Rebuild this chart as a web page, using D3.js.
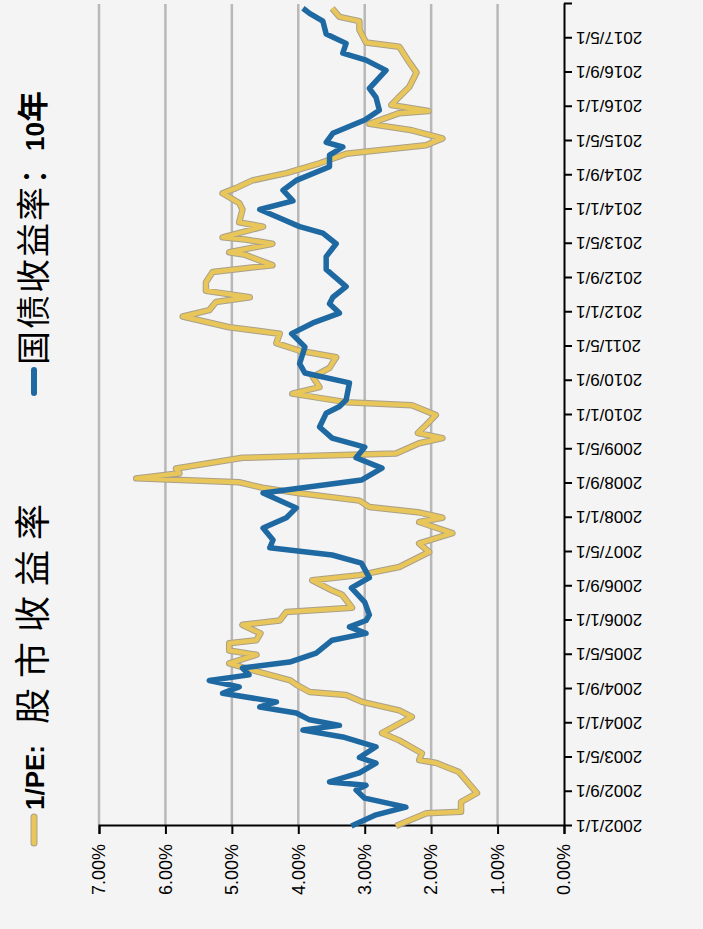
<!DOCTYPE html>
<html><head><meta charset="utf-8">
<script src="https://cdn.jsdelivr.net/npm/d3@7"></script>
<style>body{margin:0;background:#f4f4f4}</style></head>
<body><svg id="c" width="703" height="929"></svg>
<script>
// months since 2002/1
const peMonths=[0,3,3.3,5.6,7.7,12.6,14.7,15.4,17,20,21.7,25.5,27,29,30.6,31.3,33,34,36.4,38,40,41,42.7,43.4,45,46.5,47,48,50,51,54,55,57.4,58.6,60.5,64,66,68.4,71,72,73.3,74.5,76,77.7,79,80.3,81.2,82.4,83.5,86,87,89.4,90.6,91.8,93.6,96,98.3,99,101,102.5,104.9,107,109.5,111,112.8,115,116.5,119,120.5,122.4,123.5,125,127,129.4,131,133.4,134,136,137,137.5,140,141,144,145.5,147.8,149,150.8,152.5,154.8,157,159,160.6,162.5,164,166.5,167,168.4,170,172.6,176,178.4,182,183,186,188,189,191];
const peValues=[2.53,2.07,1.55,1.55,1.31,1.58,1.92,2.18,2.14,2.48,2.74,2.29,2.48,3.04,3.28,3.83,4.03,4.12,4.69,5.04,4.63,5.04,5.04,4.63,4.57,4.78,4.84,4.28,4.18,3.19,3.34,3.49,3.79,3.08,2.48,2.03,2.18,1.68,2.18,1.83,2.2,2.93,3.08,3.98,4.54,4.89,6.44,5.79,5.84,4.84,2.53,2.18,1.83,2.2,2.08,1.93,2.29,3.28,4.09,3.68,3.78,3.53,3.43,3.98,4.33,4.28,5.04,5.74,5.34,5.24,4.73,5.39,5.39,5.29,4.39,4.8,5.04,4.39,4.8,5.14,4.53,4.89,4.84,4.89,5.14,4.94,4.69,4.18,3.68,3.28,2.08,1.83,2.29,2.93,2.48,2.04,2.6,2.5,2.33,2.22,2.33,2.48,2.98,3.08,3.08,3.38,3.49];
const bondMonths=[0,2.6,4.4,6.5,8.4,9.5,10.3,12.4,14.7,16,18.5,20.8,22.4,23.5,24.8,26.4,27.8,29,31,32.5,34,35.3,36.9,38.3,40.4,43.4,45,46.5,48,49.3,52.3,55.6,58,61.4,63.3,65,66.8,69.6,72,74.3,77.8,80.8,83.6,86,88.5,90.6,93.2,96.4,98,99.5,103.5,105.8,108,111.9,115,117.5,119.8,122,123.5,126,130,133,136,138.5,140,142,144,146,148.5,150.8,154,156.7,158.6,159.7,161.8,164.9,167.2,170.2,172.3,176.5,178.9,180.5,182.8,185,188,189.8,191];
const bondValues=[3.2,2.83,2.38,3.0,3.13,2.98,3.53,3.08,2.83,3.08,2.83,3.33,3.93,3.38,3.83,4.03,4.58,4.33,5.14,4.89,5.34,4.74,4.84,4.13,3.73,3.49,2.98,3.23,2.98,2.93,3.0,3.2,2.93,3.05,3.49,4.43,4.38,4.53,4.18,4.03,4.53,3.05,2.74,3.13,3.0,3.49,3.68,3.58,3.38,3.28,3.23,3.9,3.98,3.9,4.1,3.78,3.38,3.53,3.48,3.28,3.58,3.58,3.43,3.63,3.98,4.28,4.58,4.08,4.23,4.03,3.53,3.53,3.33,3.58,3.48,3.0,2.78,2.83,2.93,2.68,2.98,3.33,3.28,3.58,3.63,3.83,3.93];
const dateTicks=["2002/1/1","2002/9/1","2003/5/1","2004/1/1","2004/9/1","2005/5/1","2006/1/1","2006/9/1","2007/5/1","2008/1/1","2008/9/1","2009/5/1","2010/1/1","2010/9/1","2011/5/1","2012/1/1","2012/9/1","2013/5/1","2014/1/1","2014/9/1","2015/5/1","2016/1/1","2016/9/1","2017/5/1"];
const valueTicks=[0,1,2,3,4,5,6,7];

const svg=d3.select("#c");
svg.append("rect").attr("width",703).attr("height",929).attr("fill","#f4f4f4");
const g=svg.append("g").attr("transform","translate(0,929) rotate(-90)");
const x=d3.scaleLinear().domain([0,192]).range([103,925]);
const y=d3.scaleLinear().domain([0,7]).range([564,99]);

g.selectAll(".grid").data(valueTicks.slice(1)).join("line")
 .attr("x1",103).attr("x2",925).attr("y1",d=>y(d)).attr("y2",d=>y(d))
 .attr("stroke","#b8b8b8").attr("stroke-width",2.5);

const yAx=g.append("g").attr("transform","translate(103,0)")
 .call(d3.axisLeft(y).tickValues(valueTicks).tickFormat(d=>d.toFixed(2)+"%").tickSize(8).tickPadding(10));
yAx.select(".domain").attr("stroke","#000").attr("stroke-width",2);
yAx.selectAll(".tick line").attr("stroke","#000").attr("stroke-width",2);
yAx.selectAll("text").attr("font-family","Liberation Sans, Arial").attr("font-size",18).attr("fill","#000");

const xAx=g.append("g").attr("transform","translate(0,564)")
 .call(d3.axisBottom(x).tickValues(d3.range(0,192,8).concat([192])).tickFormat((d,i)=>dateTicks[i]||"").tickSize(8).tickSizeOuter(0));
xAx.select(".domain").attr("stroke","#000").attr("stroke-width",2);
xAx.selectAll(".tick line").attr("stroke","#000").attr("stroke-width",2);
xAx.selectAll("text").attr("font-family","Liberation Sans, Arial").attr("font-size",17).attr("fill","#000")
 .attr("transform","rotate(-90)").attr("text-anchor","end").attr("dx","-12").attr("dy","0.35em").attr("y",0);

const line=d3.line().x(d=>x(d[0])).y(d=>y(d[1]));
const pe=peMonths.map((m,i)=>[m,peValues[i]]);
const bd=bondMonths.map((m,i)=>[m,bondValues[i]]);
g.append("path").attr("d",line(pe)).attr("fill","none").attr("stroke","#a9a08a").attr("stroke-width",6.5).attr("stroke-linejoin","round");
g.append("path").attr("d",line(pe)).attr("fill","none").attr("stroke","#e8c65a").attr("stroke-width",4.5).attr("stroke-linejoin","round");
g.append("path").attr("d",line(bd)).attr("fill","none").attr("stroke","#1f69a3").attr("stroke-width",5.5).attr("stroke-linejoin","round");

// legend
const lg=g.append("g");
lg.append("line").attr("x1",86).attr("x2",112).attr("y1",34).attr("y2",34).attr("stroke","#a9a08a").attr("stroke-width",7).attr("stroke-linecap","round");
lg.append("line").attr("x1",86).attr("x2",112).attr("y1",34).attr("y2",34).attr("stroke","#e8c65a").attr("stroke-width",5).attr("stroke-linecap","round");
lg.append("text").attr("x",119).attr("y",44).attr("font-size",26).attr("font-family","Liberation Sans, Arial").attr("font-weight","bold").text("1/PE:");
lg.append("text").attr("x",205).attr("y",46).attr("font-size",36).attr("letter-spacing",10).attr("font-family","Noto Sans CJK SC").text("股市收益率");
lg.append("line").attr("x1",536).attr("x2",559).attr("y1",34).attr("y2",34).attr("stroke","#1f69a3").attr("stroke-width",6).attr("stroke-linecap","round");
lg.append("text").attr("x",564).attr("y",46).attr("font-size",34).attr("letter-spacing",2).attr("font-family","Noto Sans CJK SC").text("国债收益率：");
const t2=lg.append("text").attr("x",778).attr("y",44).attr("font-size",26);
t2.append("tspan").attr("font-family","Liberation Sans, Arial").attr("font-weight","bold").text("10");
t2.append("tspan").attr("font-family","Noto Sans CJK SC").attr("font-weight","bold").attr("font-size",31).text("年");
</script></body></html>
